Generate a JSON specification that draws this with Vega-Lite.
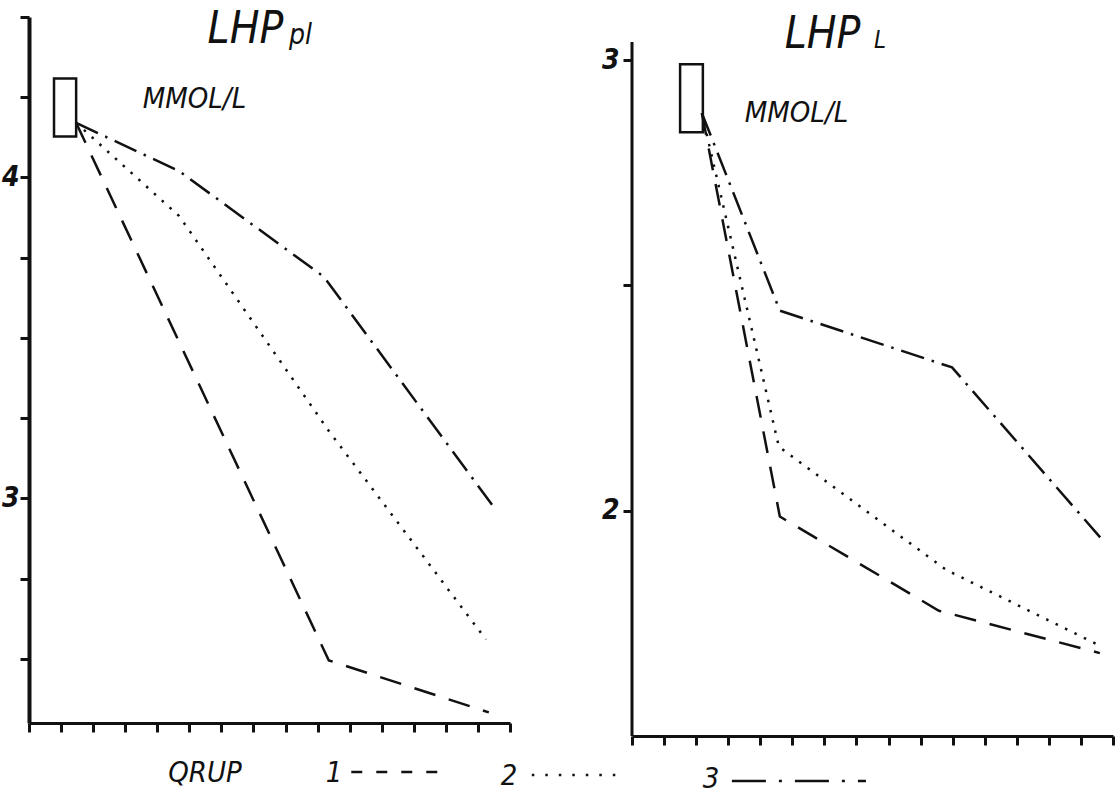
{
  "$schema": "https://vega.github.io/schema/vega-lite/v6.json",
  "background": "white",
  "padding": {"left": 1, "top": 7, "right": 0, "bottom": 0},
  "spacing": 122,
  "bounds": "flush",
  "config": {
    "view": {"stroke": null},
    "axis": {"grid": false, "domainColor": "#111", "tickColor": "#111", "labelColor": "#111", "labelFont": "DejaVu Sans Condensed, DejaVu Sans", "labelFontStyle": "italic", "labelFontWeight": "bold", "labelFontSize": 28},
    "text": {"font": "DejaVu Sans Condensed, DejaVu Sans", "fontStyle": "italic", "color": "#111"}
  },
  "datasets": {
    "leftLines": [
      {"group": "1", "x": 1.47, "y": 4.17}, {"group": "1", "x": 9.35, "y": 2.495}, {"group": "1", "x": 14.34, "y": 2.333},
      {"group": "2", "x": 1.47, "y": 4.17}, {"group": "2", "x": 4.68, "y": 3.88}, {"group": "2", "x": 9.35, "y": 3.21}, {"group": "2", "x": 14.25, "y": 2.56},
      {"group": "3", "x": 1.47, "y": 4.17}, {"group": "3", "x": 4.68, "y": 4.02}, {"group": "3", "x": 9.2, "y": 3.69}, {"group": "3", "x": 14.44, "y": 2.98}
    ],
    "rightLines": [
      {"group": "1", "x": 2.18, "y": 2.882}, {"group": "1", "x": 4.61, "y": 1.987}, {"group": "1", "x": 9.57, "y": 1.778}, {"group": "1", "x": 14.59, "y": 1.684},
      {"group": "2", "x": 2.18, "y": 2.882}, {"group": "2", "x": 4.58, "y": 2.142}, {"group": "2", "x": 9.79, "y": 1.869}, {"group": "2", "x": 14.66, "y": 1.698},
      {"group": "3", "x": 2.18, "y": 2.882}, {"group": "3", "x": 4.61, "y": 2.444}, {"group": "3", "x": 9.98, "y": 2.318}, {"group": "3", "x": 14.72, "y": 1.931}
    ],
    "leftBox": [{"x": 0.78, "x2": 1.47, "y": 4.128, "y2": 4.308}],
    "rightBox": [{"x": 1.5, "x2": 2.21, "y": 2.84, "y2": 2.991}],
    "leftText": [
      {"role": "title", "text": "LHP", "x": 6.75, "y": 4.42},
      {"role": "sub", "text": "pl", "x": 8.11, "y": 4.417},
      {"role": "unit", "text": "MMOL/L", "x": 5.16, "y": 4.215}
    ],
    "rightText": [
      {"role": "title", "text": "LHP", "x": 5.94, "y": 3.027},
      {"role": "sub", "text": "L", "x": 7.55, "y": 3.027},
      {"role": "unit", "text": "MMOL/L", "x": 5.13, "y": 2.862}
    ],
    "rightAxisLine": [{"x": 0, "y": 1.5, "y2": 3.04}],
    "legendText": [
      {"text": "QRUP", "x": 5.49, "y": 2.116},
      {"text": "1", "x": 9.51, "y": 2.116},
      {"text": "2", "x": 14.97, "y": 2.107},
      {"text": "3", "x": 21.27, "y": 2.097}
    ],
    "legendKeys": [
      {"group": "1", "x": 10.05, "x2": 12.87, "y": 2.147},
      {"group": "2", "x": 15.68, "x2": 18.62, "y": 2.138},
      {"group": "3", "x": 21.92, "x2": 26.1, "y": 2.119}
    ]
  },
  "hconcat": [
    {
      "width": 481,
      "height": 706,
      "resolve": {"scale": {"strokeDash": "independent"}},
      "encoding": {
        "x": {"field": "x", "type": "quantitative", "title": null,
              "scale": {"domain": [0, 15], "nice": false, "zero": false},
              "axis": {"values": [0,1,2,3,4,5,6,7,8,9,10,11,12,13,14,15], "labels": false, "tickSize": 9, "tickWidth": 3, "domainWidth": 3}},
        "y": {"field": "y", "type": "quantitative", "title": null,
              "scale": {"domain": [2.3, 4.5], "nice": false, "zero": false},
              "axis": {"values": [2.5, 2.75, 3, 3.25, 3.5, 3.75, 4, 4.25, 4.5], "labelExpr": "datum.value == 3 || datum.value == 4 ? '' + datum.value : ''", "tickSize": 9, "tickWidth": 3, "domainWidth": 4, "labelPadding": 1}}
      },
      "layer": [
        {
          "data": {"name": "leftLines"},
          "mark": {"type": "line", "stroke": "#111", "strokeWidth": 2.5},
          "encoding": {
            "strokeDash": {"field": "group", "type": "nominal", "legend": null,
                           "scale": {"domain": ["1", "2", "3"], "range": [[22, 14], [2.5, 8], [24, 8, 2.5, 8]]}},
            "detail": {"field": "group"}
          }
        },
        {
          "data": {"name": "leftBox"},
          "mark": {"type": "rect", "fill": null, "stroke": "#111", "strokeWidth": 2.5},
          "encoding": {"x2": {"field": "x2"}, "y2": {"field": "y2"}}
        },
        {
          "data": {"name": "leftText"},
          "transform": [{"filter": "datum.role == 'title'"}],
          "mark": {"type": "text", "fontSize": 44, "align": "center", "baseline": "alphabetic"},
          "encoding": {"text": {"field": "text"}}
        },
        {
          "data": {"name": "leftText"},
          "transform": [{"filter": "datum.role == 'sub'"}],
          "mark": {"type": "text", "fontSize": 28, "align": "left", "baseline": "alphabetic"},
          "encoding": {"text": {"field": "text"}}
        },
        {
          "data": {"name": "leftText"},
          "transform": [{"filter": "datum.role == 'unit'"}],
          "mark": {"type": "text", "fontSize": 29, "align": "center", "baseline": "alphabetic"},
          "encoding": {"text": {"field": "text"}}
        },
        {
          "data": {"name": "legendText"},
          "mark": {"type": "text", "fontSize": 29, "align": "center", "baseline": "alphabetic"},
          "encoding": {"text": {"field": "text"}}
        },
        {
          "data": {"name": "legendKeys"},
          "mark": {"type": "rule", "stroke": "#111", "strokeWidth": 2.5},
          "encoding": {
            "x2": {"field": "x2"},
            "strokeDash": {"field": "group", "type": "nominal", "legend": null,
                           "scale": {"domain": ["1", "2", "3"], "range": [[11, 14], [2.5, 11], [34, 13, 3, 13]]}}
          }
        }
      ]
    },
    {
      "width": 481,
      "height": 719,
      "encoding": {
        "x": {"field": "x", "type": "quantitative", "title": null,
              "scale": {"domain": [0, 15], "nice": false, "zero": false},
              "axis": {"values": [0,1,2,3,4,5,6,7,8,9,10,11,12,13,14,15], "labels": false, "tickSize": 9, "tickWidth": 3, "domainWidth": 3}},
        "y": {"field": "y", "type": "quantitative", "title": null,
              "scale": {"domain": [1.5, 3.0956], "nice": false, "zero": false},
              "axis": {"values": [2, 2.5, 3], "labelExpr": "datum.value == 2 || datum.value == 3 ? '' + datum.value : ''", "domain": false, "tickSize": 9, "tickWidth": 3, "labelPadding": 4}}
      },
      "layer": [
        {
          "data": {"name": "rightAxisLine"},
          "mark": {"type": "rule", "stroke": "#111", "strokeWidth": 3},
          "encoding": {"y2": {"field": "y2"}}
        },
        {
          "data": {"name": "rightLines"},
          "mark": {"type": "line", "stroke": "#111", "strokeWidth": 2.5},
          "encoding": {
            "strokeDash": {"field": "group", "type": "nominal", "legend": null,
                           "scale": {"domain": ["1", "2", "3"], "range": [[22, 14], [2.5, 8], [24, 8, 2.5, 8]]}},
            "detail": {"field": "group"}
          }
        },
        {
          "data": {"name": "rightBox"},
          "mark": {"type": "rect", "fill": null, "stroke": "#111", "strokeWidth": 2.5},
          "encoding": {"x2": {"field": "x2"}, "y2": {"field": "y2"}}
        },
        {
          "data": {"name": "rightText"},
          "transform": [{"filter": "datum.role == 'title'"}],
          "mark": {"type": "text", "fontSize": 44, "align": "center", "baseline": "alphabetic"},
          "encoding": {"text": {"field": "text"}}
        },
        {
          "data": {"name": "rightText"},
          "transform": [{"filter": "datum.role == 'sub'"}],
          "mark": {"type": "text", "fontSize": 24, "align": "left", "baseline": "alphabetic"},
          "encoding": {"text": {"field": "text"}}
        },
        {
          "data": {"name": "rightText"},
          "transform": [{"filter": "datum.role == 'unit'"}],
          "mark": {"type": "text", "fontSize": 29, "align": "center", "baseline": "alphabetic"},
          "encoding": {"text": {"field": "text"}}
        }
      ]
    }
  ]
}
